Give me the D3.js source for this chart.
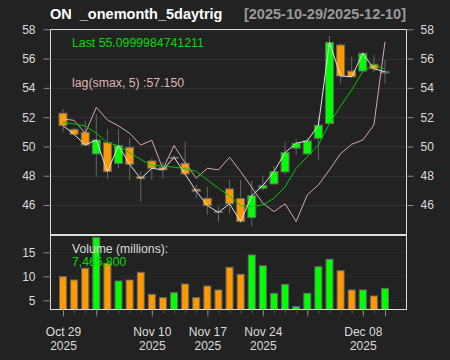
<!DOCTYPE html>
<html><head><meta charset="utf-8">
<script src="https://cdn.jsdelivr.net/npm/d3@7"></script>
<style>
body{margin:0;background:#222222;}
svg{display:block;font-family:"Liberation Sans",Arial,Helvetica,sans-serif;}
</style>
</head><body>
<svg id="chart" width="450" height="360"></svg>
<script>
const dates = ["2025-10-29","2025-10-30","2025-10-31","2025-11-03","2025-11-04","2025-11-05","2025-11-06","2025-11-07",
"2025-11-10","2025-11-11","2025-11-12","2025-11-13","2025-11-14","2025-11-17","2025-11-18","2025-11-19","2025-11-20","2025-11-21",
"2025-11-24","2025-11-25","2025-11-26","2025-11-28","2025-12-01","2025-12-02","2025-12-03","2025-12-04","2025-12-05",
"2025-12-08","2025-12-09","2025-12-10"];
const openP  = [52.27,51.17,50.97,49.49,50.26,48.83,49.94,47.94,49.01,48.55,49.18,48.85,47.08,46.46,45.56,47.10,46.44,45.14,47.15,47.44,48.26,49.88,49.49,50.56,51.56,56.93,55.15,55.15,55.61,55.02];
const highP  = [52.56,51.30,51.76,52.22,51.17,51.17,50.56,48.30,49.19,48.95,49.40,50.33,47.37,47.26,45.90,47.71,47.71,47.67,48.00,48.67,50.33,50.50,50.60,51.99,57.54,57.04,56.13,56.45,56.25,55.90];
const lowP   = [51.01,50.75,50.03,47.94,47.78,48.51,47.71,46.23,47.71,47.80,49.10,47.94,46.46,45.32,44.87,45.44,44.76,44.53,47.00,47.40,48.10,49.42,49.40,49.08,51.50,54.31,54.70,55.10,55.10,54.31];
const closeP = [51.42,50.83,50.10,50.44,48.28,50.06,48.78,47.80,48.51,48.40,49.26,48.12,46.94,45.96,45.50,46.08,44.87,46.64,47.33,48.28,49.58,50.22,50.38,51.45,57.11,54.81,54.76,56.36,55.30,55.10];
const volumeM = [9.92,9.23,11.67,18.10,12.70,9.02,9.23,10.83,6.25,5.55,6.58,8.40,5.55,7.98,7.15,11.88,10.42,14.44,12.20,6.46,8.33,3.67,6.46,12.00,13.54,11.17,7.15,7.15,5.90,7.47];
const avgLine = [51.64,51.54,51.40,50.90,50.26,50.05,49.56,49.12,48.70,48.67,48.58,48.48,48.30,47.71,47.15,46.62,45.95,45.89,46.01,46.46,47.25,48.50,49.30,50.10,51.58,52.76,53.86,55.11,55.61,55.27];
const lagSmax = [51.88,51.78,50.90,52.67,51.81,51.40,50.90,50.10,50.42,48.45,50.06,48.88,47.83,48.51,48.40,49.26,48.28,47.21,46.12,45.55,46.08,44.87,46.69,47.37,48.40,49.50,50.15,50.44,51.47,57.15];
const priceTicks = [46,48,50,52,54,56,58];
const volTicks = [5,10,15];
const majorDates = ["2025-10-29","2025-11-03","2025-11-10","2025-11-17","2025-11-24","2025-12-01","2025-12-08","2025-12-10"];
const dateLabels = {"2025-10-29":["Oct 29","2025"],"2025-11-10":["Nov 10","2025"],"2025-11-17":["Nov 17","2025"],"2025-11-24":["Nov 24","2025"],"2025-12-08":["Dec 08","2025"]};
const titleText = "ON  _onemonth_5daytrig";
const rangeText = "[2025-10-29/2025-12-10]";
const lastText = "Last 55.0999984741211";
const lagText = "lag(smax, 5) :57.150";
const volTitle = "Volume (millions):";
const volLast = "7,465,800";

const svg = d3.select("#chart");
const L = 50.5, R = 406.5, T = 29.5, MB = 234.5, VT = 235.5, VB = 309.5;
const x = d3.scalePoint().domain(dates).range([63, 385]);
const yP = d3.scaleLinear().domain([44, 58]).range([234.3, 29.3]);
const yV = d3.scaleLinear().domain([3.125, 18.54]).range([309.3, 235.3]);

const data = dates.map((d,i)=>({d, o:openP[i], h:highP[i], l:lowP[i], c:closeP[i], v:volumeM[i], a:avgLine[i], p:lagSmax[i]}));
const UP = "#00ff00", DN = "#ff9900";

svg.append("rect").attr("width",450).attr("height",360).attr("fill","#222222");

// grid
svg.append("g").selectAll("line").data(priceTicks).join("line")
  .attr("x1",L).attr("x2",R).attr("y1",d=>Math.round(yP(d))+0.5).attr("y2",d=>Math.round(yP(d))+0.5)
  .attr("stroke","#323232").attr("stroke-width",1);
svg.append("g").selectAll("line").data(volTicks).join("line")
  .attr("x1",L).attr("x2",R).attr("y1",d=>Math.round(yV(d))+0.5).attr("y2",d=>Math.round(yV(d))+0.5)
  .attr("stroke","#3a3a3a").attr("stroke-dasharray","1,3");

// wicks
svg.append("g").selectAll("line").data(data).join("line")
  .attr("x1",d=>x(d.d)).attr("x2",d=>x(d.d)).attr("y1",d=>yP(d.h)).attr("y2",d=>yP(d.l))
  .attr("stroke","#666").attr("stroke-width",1);
// bodies
svg.append("g").selectAll("rect").data(data).join("rect")
  .attr("x",d=>x(d.d)-4).attr("width",8)
  .attr("y",d=>yP(Math.max(d.o,d.c)))
  .attr("height",d=>Math.max(1,Math.abs(yP(d.o)-yP(d.c))))
  .attr("fill",d=>d.c>=d.o?UP:DN).attr("stroke","#666").attr("stroke-width",1);

// volume bars
svg.append("g").selectAll("rect").data(data).join("rect")
  .attr("x",d=>x(d.d)-3.5).attr("width",7)
  .attr("y",d=>yV(d.v)).attr("height",d=>VB-yV(d.v))
  .attr("fill",d=>d.c>=d.o?UP:DN).attr("stroke","#666").attr("stroke-width",1);

// lines
const ln = acc => d3.line().x(d=>x(d.d)).y(d=>yP(acc(d)));
svg.append("path").datum(data).attr("d",ln(d=>d.p)).attr("fill","none").attr("stroke","#d8a8ac").attr("stroke-width",1);
svg.append("path").datum(data).attr("d",ln(d=>d.a)).attr("fill","none").attr("stroke","#00c800").attr("stroke-width",1);
svg.append("path").datum(data).attr("d",ln(d=>d.c)).attr("fill","none").attr("stroke","#e0e0e0").attr("stroke-width",1);

// panel borders
svg.append("rect").attr("x",L).attr("y",T).attr("width",R-L).attr("height",MB-T).attr("fill","none").attr("stroke","#dddddd");
svg.append("rect").attr("x",L).attr("y",VT).attr("width",R-L).attr("height",VB-VT).attr("fill","none").attr("stroke","#dddddd");

// axes
function styleAxis(g){
  g.select(".domain").remove();
  g.selectAll(".tick line").attr("stroke","#888");
  g.selectAll(".tick text").attr("fill","#dddddd").attr("font-size","12px").attr("font-family","Liberation Sans, Arial, sans-serif");
}
svg.append("g").attr("transform",`translate(${L},0)`)
  .call(d3.axisLeft(yP).tickValues(priceTicks).tickSize(7).tickPadding(8)).call(styleAxis);
svg.append("g").attr("transform",`translate(${R},0)`)
  .call(d3.axisRight(yP).tickValues(priceTicks).tickSize(7).tickPadding(7)).call(styleAxis);
svg.append("g").attr("transform",`translate(${L},0)`)
  .call(d3.axisLeft(yV).tickValues(volTicks).tickSize(7).tickPadding(8)).call(styleAxis);

// x axis minor and major
svg.append("g").attr("transform",`translate(0,${VB})`)
  .call(d3.axisBottom(x).tickValues(dates).tickSize(4).tickFormat(""))
  .call(g=>{g.select(".domain").remove(); g.selectAll(".tick line").attr("stroke","#555");});
const xa = svg.append("g").attr("transform",`translate(0,${VB})`)
  .call(d3.axisBottom(x).tickValues(majorDates).tickSize(7).tickFormat(""))
  .call(g=>{g.select(".domain").remove(); g.selectAll(".tick line").attr("stroke","#888");});
xa.selectAll(".tick").each(function(d){
  const lab = dateLabels[d];
  if(!lab) return;
  const t = d3.select(this).append("text").attr("fill","#dddddd").attr("font-size","12px").attr("text-anchor","middle");
  t.append("tspan").attr("x",0).attr("y",336-VB).text(lab[0]);
  t.append("tspan").attr("x",0).attr("y",350-VB).text(lab[1]);
});

// titles
svg.append("text").attr("x",50).attr("y",19).attr("fill","#ffffff").attr("font-weight","bold").attr("font-size","14.5px")
  .style("white-space","pre").attr("xml:space","preserve").text(titleText);
svg.append("text").attr("x",406).attr("y",19).attr("fill","#999999").attr("font-weight","bold").attr("font-size","14.5px").attr("text-anchor","end").text(rangeText);

// legends
svg.append("text").attr("x",72).attr("y",47).attr("fill","#00dd00").attr("font-size","12.3px").text(lastText);
svg.append("text").attr("x",72).attr("y",87).attr("fill","#e0b4b8").attr("font-size","12.3px").text(lagText);
svg.append("text").attr("x",72).attr("y",252.5).attr("fill","#dddddd").attr("font-size","12.2px").text(volTitle);
svg.append("text").attr("x",72).attr("y",266).attr("fill","#00dd00").attr("font-size","12.2px").text(volLast);
</script>
</body></html>
